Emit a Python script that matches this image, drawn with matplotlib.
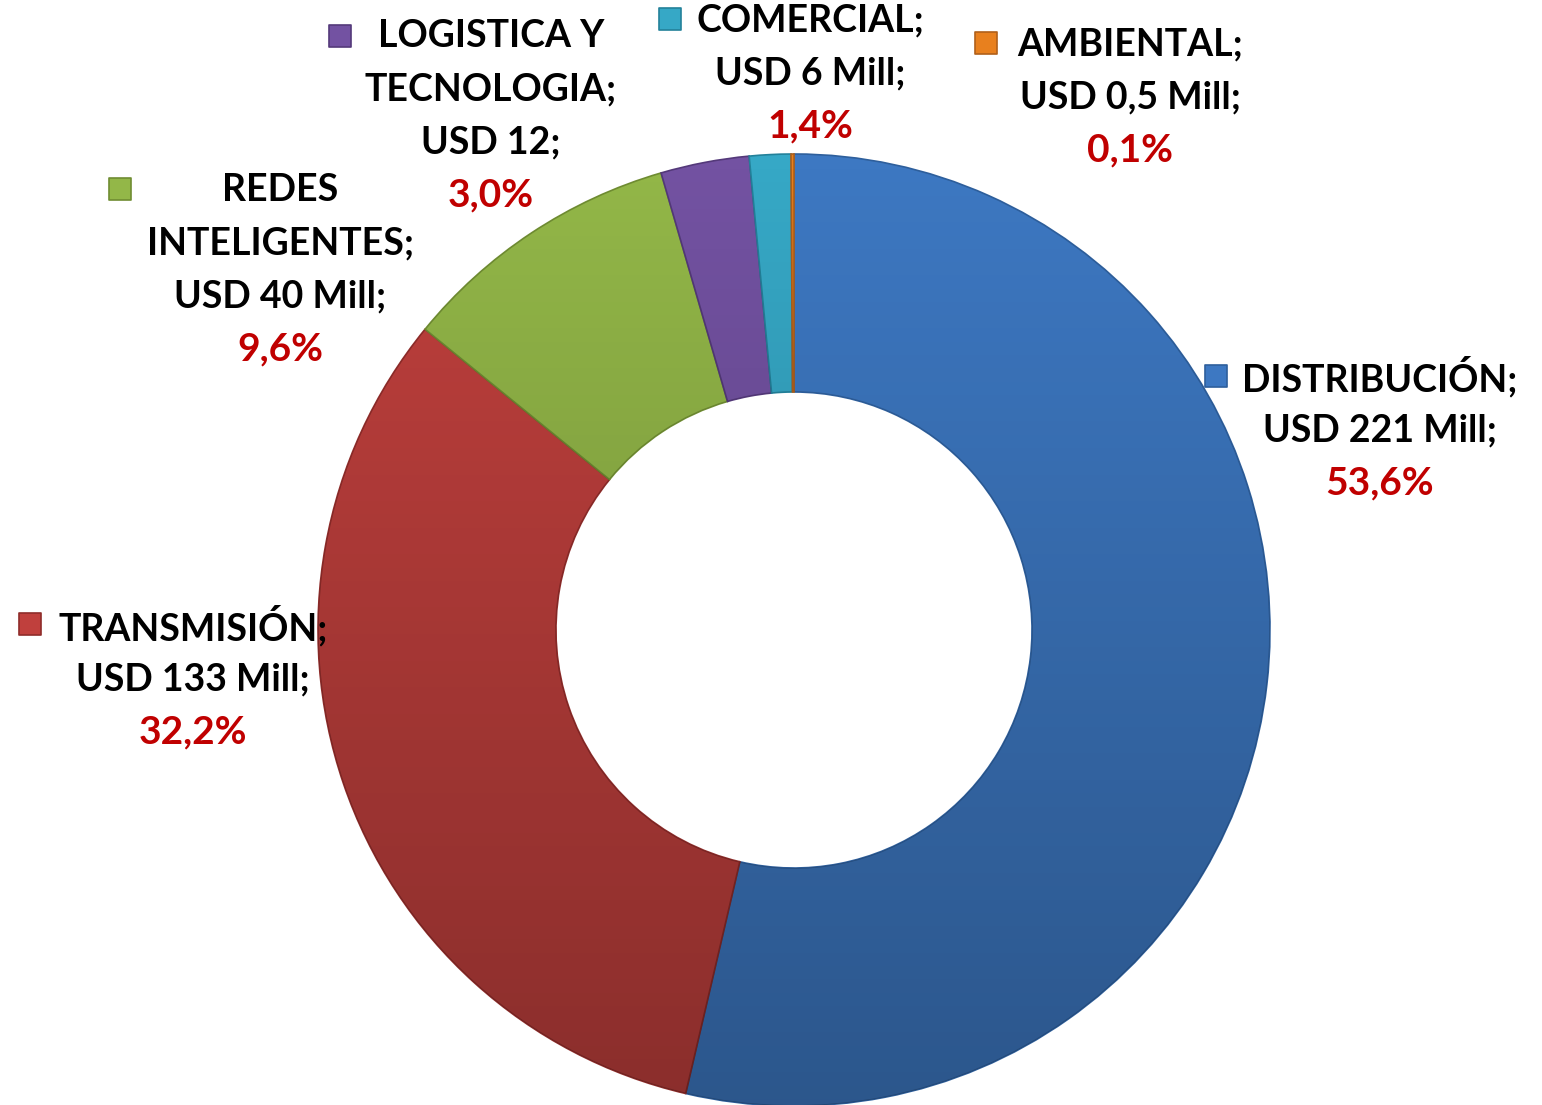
import numpy as np
import matplotlib.pyplot as plt

plt.rcParams['font.family'] = ['Lato', 'DejaVu Sans']

categories = ['DISTRIBUCIÓN', 'TRANSMISIÓN', 'REDES INTELIGENTES',
              'LOGISTICA Y TECNOLOGIA', 'COMERCIAL', 'AMBIENTAL']
values_txt = ['USD 221 Mill;', 'USD 133 Mill;', 'USD 40 Mill;',
              'USD 12;', 'USD 6 Mill;', 'USD 0,5 Mill;']
pcts = [53.6, 32.2, 9.6, 3.0, 1.4, 0.1]
name_lines = [['DISTRIBUCIÓN;'], ['TRANSMISIÓN;'], ['REDES', 'INTELIGENTES;'],
              ['LOGISTICA Y', 'TECNOLOGIA;'], ['COMERCIAL;'], ['AMBIENTAL;']]
colors = ['#3d78c2', '#c0403d', '#93b748', '#7352a2', '#36a8c6', '#e8801e']
edge_colors = ['#2e5f9c', '#8f2c2a', '#6f8c32', '#54397a', '#23819a', '#b0601a']

# label layout in pixels: (text centre x, first line y, marker x, marker y)
label_pos = [(1380, 377, 1216, 376), (193, 626, 30, 624), (280, 190, 120, 189),
             (491, 36, 340, 36), (810, 20, 670, 19), (1130, 44, 986, 43)]

W, H = 1542, 1105
CX, CY, R = 794, 630, 476


def px(x, y):
    return (x - CX) / R, (CY - y) / R


fig = plt.figure(figsize=(W / 100, H / 100), dpi=100)
ax = fig.add_axes([0, 0, 1, 1])
ax.axis('off')

wedges, _ = ax.pie(pcts, colors=colors, startangle=90, counterclock=False,
                   radius=1.0, wedgeprops=dict(width=0.5, linewidth=1.2))
for w, ec in zip(wedges, edge_colors):
    w.set_edgecolor(ec)

# vertical shading, darker towards the bottom
grad = np.linspace(0, 1, 256).reshape(-1, 1)
shade = np.zeros((256, 1, 4))
shade[..., 3] = 0.28 * grad
for w in wedges:
    im = ax.imshow(shade, extent=(-1, 1, -1, 1), aspect='auto', zorder=w.get_zorder() + 0.5,
                   interpolation='bilinear', origin='upper')
    im.set_clip_path(w)

ax.set_xlim(-CX / R, (W - CX) / R)
ax.set_ylim(-(H - CY) / R, CY / R)

line_h = 53
fs = 27
fs_pct = 28
for lines, vtxt, p, (tx, ty, mx, my), c, ec in zip(name_lines, values_txt, pcts,
                                                   label_pos, colors, edge_colors):
    all_lines = lines + [vtxt]
    for i, s in enumerate(all_lines):
        x, y = px(tx, ty + i * line_h)
        ax.text(x, y, s, ha='center', va='center', fontsize=fs, fontweight='bold', color='black')
    x, y = px(tx, ty + len(all_lines) * line_h)
    ax.text(x, y, f'{p:.1f}%'.replace('.', ','), ha='center', va='center',
            fontsize=fs_pct, fontweight='bold', color='#c00000')
    x, y = px(mx, my)
    ax.scatter([x], [y], marker='s', s=230, color=c, edgecolors=ec, linewidths=1.2, zorder=5)

fig.savefig('out.png', dpi=100)
